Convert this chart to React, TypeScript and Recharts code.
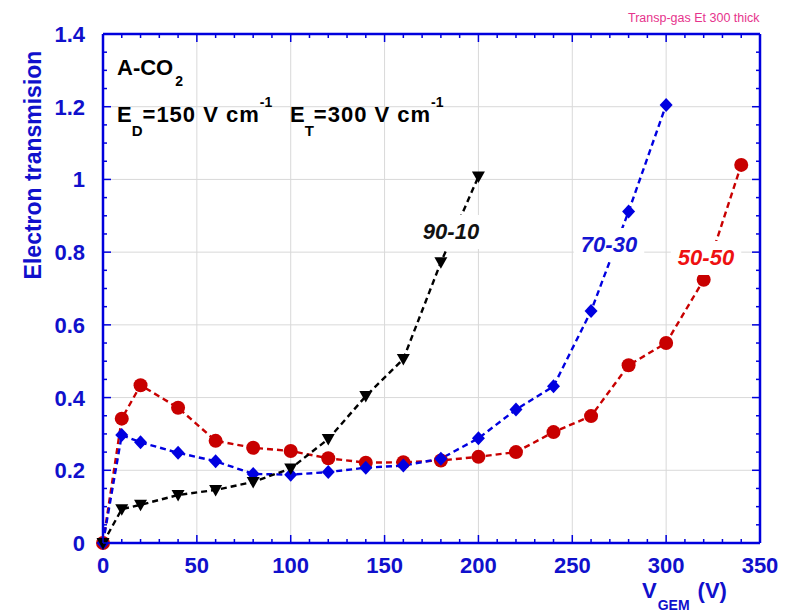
import { LineChart, Line, XAxis, YAxis, CartesianGrid, ReferenceLine } from "recharts";

// GEM voltage (V) where transmission was measured
const V_GEM = [0, 10, 20, 40, 60, 80, 100, 120, 140, 160, 180, 200, 220, 240, 260, 280, 300, 320, 340];

// electron transmission per Ar-CO2 mixture
const T_90_10 = [0, 0.093, 0.105, 0.132, 0.146, 0.168, 0.205, 0.286, 0.404, 0.506, 0.772, 1.008];
const T_70_30 = [0, 0.297, 0.277, 0.248, 0.225, 0.19, 0.188, 0.195, 0.207, 0.213, 0.232, 0.288, 0.367, 0.431, 0.638, 0.912, 1.205];
const T_50_50 = [0, 0.342, 0.434, 0.372, 0.281, 0.262, 0.253, 0.233, 0.221, 0.222, 0.227, 0.237, 0.25, 0.305, 0.349, 0.489, 0.55, 0.724, 1.04];

const X_MAJOR = [0, 50, 100, 150, 200, 250, 300, 350];
const Y_MAJOR = [0, 0.2, 0.4, 0.6, 0.8, 1, 1.2, 1.4];
const X_MINOR = Array.from({ length: 36 }, (_, i) => i * 10);
const Y_MINOR = Array.from({ length: 29 }, (_, i) => (i * 5) / 100);

const W = 787;
const H = 614;
const TOP = 34;
const BOTTOM = 543;
const LEFT = 103;
const RIGHT = 760;

const AXIS = "#0000dd";
const TEXT_BLUE = "#1010cc";
const RED = "#c80000";
const BLUE = "#0000e0";
const FONT = "'Liberation Sans', Arial, sans-serif";

const data = V_GEM.map((v, i) => ({
  v,
  a: T_90_10[i],
  b: T_70_30[i],
  c: T_50_50[i],
}));

const isMajor = (list: number[], v: number) => list.some((m) => Math.abs(m - v) < 1e-6);

function XTick(props: any) {
  const { x, payload } = props;
  const v = payload.value;
  const major = isMajor(X_MAJOR, v);
  const len = major ? 8 : 4;
  return (
    <g>
      <line x1={x} x2={x} y1={BOTTOM} y2={BOTTOM - len} stroke={AXIS} strokeWidth={1.5} />
      <line x1={x} x2={x} y1={TOP} y2={TOP + len} stroke={AXIS} strokeWidth={1.5} />
      {major && (
        <text x={x} y={BOTTOM + 30} textAnchor="middle" fontFamily={FONT} fontWeight="bold" fontSize={22} fill={TEXT_BLUE}>
          {v}
        </text>
      )}
    </g>
  );
}

function YTick(props: any) {
  const { y, payload } = props;
  const v = payload.value;
  const major = isMajor(Y_MAJOR, v);
  const len = major ? 8 : 4;
  return (
    <g>
      <line x1={LEFT} x2={LEFT + len} y1={y} y2={y} stroke={AXIS} strokeWidth={1.5} />
      <line x1={RIGHT} x2={RIGHT - len} y1={y} y2={y} stroke={AXIS} strokeWidth={1.5} />
      {major && (
        <text x={LEFT - 18} y={y + 8} textAnchor="end" fontFamily={FONT} fontWeight="bold" fontSize={22} fill={TEXT_BLUE}>
          {String(Math.round(v * 10) / 10)}
        </text>
      )}
    </g>
  );
}

const circleDot = (p: any) =>
  p.cy == null ? <g key={p.index} /> : <circle key={p.index} cx={p.cx} cy={p.cy} r={7} fill={RED} />;

const diamondDot = (p: any) =>
  p.cy == null ? (
    <g key={p.index} />
  ) : (
    <polygon
      key={p.index}
      points={`${p.cx},${p.cy - 7} ${p.cx + 6.5},${p.cy} ${p.cx},${p.cy + 7} ${p.cx - 6.5},${p.cy}`}
      fill={BLUE}
    />
  );

const triangleDot = (p: any) =>
  p.cy == null ? (
    <g key={p.index} />
  ) : (
    <polygon
      key={p.index}
      points={`${p.cx - 6.5},${p.cy - 5} ${p.cx + 6.5},${p.cy - 5} ${p.cx},${p.cy + 6.5}`}
      fill="#000"
    />
  );

function MixLabel({ cx, base, text, color }: { cx: number; base: number; text: string; color: string }) {
  const w = text.length * 12.5;
  return (
    <g>
      <rect x={cx - w / 2 - 4} y={base - 24} width={w + 8} height={34} fill="#fff" />
      <text x={cx} y={base} textAnchor="middle" fontFamily={FONT} fontWeight="bold" fontStyle="italic" fontSize={22} fill={color}>
        {text}
      </text>
    </g>
  );
}

export default function App() {
  return (
    <div style={{ position: "relative", width: W, height: H, background: "#fff" }}>
      <style>{"body{margin:0}"}</style>
      <LineChart width={W} height={H} data={data} margin={{ top: TOP, right: W - RIGHT, bottom: 0, left: 0 }}>
        <CartesianGrid
          stroke="#d9d9d9"
          strokeWidth={1}
          horizontalValues={Y_MAJOR.slice(1, -1)}
          verticalValues={X_MAJOR.slice(1, -1)}
        />
        <XAxis
          dataKey="v"
          type="number"
          domain={[0, 350]}
          ticks={X_MINOR}
          interval={0}
          height={H - BOTTOM}
          tickSize={0}
          tickMargin={0}
          tickLine={false}
          axisLine={{ stroke: AXIS, strokeWidth: 2.5 }}
          tick={(p: any) => <XTick {...p} />}
        />
        <YAxis
          type="number"
          domain={[0, 1.4]}
          ticks={Y_MINOR}
          interval={0}
          width={LEFT}
          tickSize={0}
          tickMargin={0}
          tickLine={false}
          axisLine={{ stroke: AXIS, strokeWidth: 2.5 }}
          tick={(p: any) => <YTick {...p} />}
        />
        <ReferenceLine y={1.4} stroke={AXIS} strokeWidth={2.5} />
        <ReferenceLine x={350} stroke={AXIS} strokeWidth={2.5} />
        <Line
          dataKey="c"
          type="linear"
          stroke={RED}
          strokeWidth={2.4}
          strokeDasharray="6 4"
          dot={circleDot}
          isAnimationActive={false}
        />
        <Line
          dataKey="b"
          type="linear"
          stroke={BLUE}
          strokeWidth={2.4}
          strokeDasharray="6 4"
          dot={diamondDot}
          isAnimationActive={false}
        />
        <Line
          dataKey="a"
          type="linear"
          stroke="#000"
          strokeWidth={2.4}
          strokeDasharray="6 4"
          dot={triangleDot}
          isAnimationActive={false}
        />
      </LineChart>

      <svg width={W} height={H} style={{ position: "absolute", left: 0, top: 0, pointerEvents: "none" }}>
        <text x={628} y={22} fontFamily={FONT} fontSize={12.5} fill="#e6338c">
          Transp-gas Et 300 thick
        </text>

        <text
          x={41}
          y={165}
          transform="rotate(-90, 41, 165)"
          textAnchor="middle"
          fontFamily={FONT}
          fontWeight="bold"
          fontSize={23}
          fill={TEXT_BLUE}
        >
          Electron transmision
        </text>

        <text x={642} y={598} fontFamily={FONT} fontWeight="bold" fontSize={22} fill={TEXT_BLUE}>
          V
          <tspan dx={1} dy={12} fontSize={14}>GEM</tspan>
          <tspan dx={8} dy={-12} fontSize={22}>(V)</tspan>
        </text>

        <g fontFamily={FONT} fontWeight="bold" fill="#000">
          <text x={117} y={75} fontSize={22}>
            A-CO
            <tspan dx={2} dy={11} fontSize={14}>2</tspan>
          </text>
          <text x={117} y={122} fontSize={22}>
            E
            <tspan dy={14} fontSize={15}>D</tspan>
            <tspan dy={-14} fontSize={22} letterSpacing={1}>=150 V cm</tspan>
            <tspan dy={-15} fontSize={14}>-1</tspan>
          </text>
          <text x={290} y={122} fontSize={22}>
            E
            <tspan dy={14} fontSize={15}>T</tspan>
            <tspan dy={-14} fontSize={22} letterSpacing={1}>=300 V cm</tspan>
            <tspan dy={-15} fontSize={14}>-1</tspan>
          </text>
        </g>

        <MixLabel cx={451} base={239} text="90-10" color="#111" />
        <MixLabel cx={609} base={252} text="70-30" color="#1414d2" />
        <MixLabel cx={706} base={265} text="50-50" color="#ee1111" />
      </svg>
    </div>
  );
}
